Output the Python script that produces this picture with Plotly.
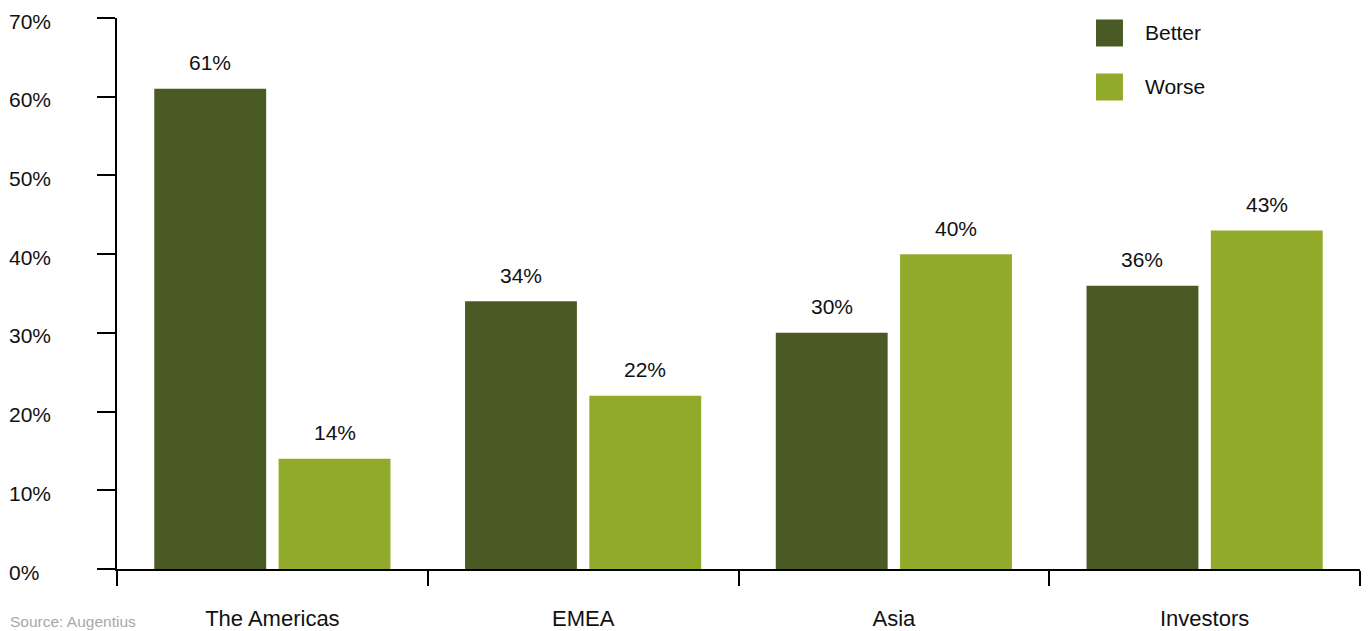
import plotly.graph_objects as go

categories = ["The Americas", "EMEA", "Asia", "Investors"]
better = [61, 34, 30, 36]
worse = [14, 22, 40, 43]
y_ticks = [0, 10, 20, 30, 40, 50, 60, 70]
y_tick_labels = ["0%", "10%", "20%", "30%", "40%", "50%", "60%", "70%"]
series_names = ["Better", "Worse"]
colors = ["#4a5a24", "#91aa29"]
source_text = "Source: Augentius"

FONT = "Liberation Sans, Arial, Helvetica, sans-serif"

fig = go.Figure()
fig.add_trace(go.Bar(x=categories, y=better, name=series_names[0],
                     marker=dict(color=colors[0], line=dict(width=0)), showlegend=False))
fig.add_trace(go.Bar(x=categories, y=worse, name=series_names[1],
                     marker=dict(color=colors[1], line=dict(width=0)), showlegend=False))

annotations = []
# value labels above bars
for i, (b, w) in enumerate(zip(better, worse)):
    for off, v in ((-0.2, b), (0.2, w)):
        annotations.append(dict(x=i + off, y=v, xref="x", yref="y", text=f"{v}%",
                                showarrow=False, yanchor="middle", yshift=26,
                                font=dict(family=FONT, size=21, color="#111111")))
# y tick labels, left-aligned
for v, t in zip(y_ticks, y_tick_labels):
    annotations.append(dict(x=-0.0885, y=v, xref="paper", yref="y", text=t,
                            showarrow=False, xanchor="left", yanchor="middle", yshift=-3,
                            font=dict(family=FONT, size=21, color="#111111")))
# legend (manual)
leg_y = [0.9728, 0.8748]
shapes = []
for name, c, yc in zip(series_names, colors, leg_y):
    shapes.append(dict(type="rect", xref="paper", yref="paper",
                       x0=0.7876, x1=0.8093, y0=yc - 0.0245, y1=yc + 0.0245,
                       fillcolor=c, line=dict(width=0)))
    annotations.append(dict(x=0.8255, y=yc, xref="paper", yref="paper", text=name,
                            showarrow=False, xanchor="left", yanchor="middle",
                            font=dict(family=FONT, size=21, color="#111111")))
annotations.append(dict(x=-0.0877, y=-0.0955, xref="paper", yref="paper", text=source_text,
                        showarrow=False, xanchor="left", yanchor="middle",
                        font=dict(family=FONT, size=15.5, color="#a8a8a8")))

fig.update_layout(
    width=1368, height=631,
    margin=dict(l=117, r=8, t=18, b=62, autoexpand=False),
    paper_bgcolor="white", plot_bgcolor="white",
    barmode="group", bargap=0.2, bargroupgap=0.1,
    annotations=annotations, shapes=shapes,
    font=dict(family=FONT, size=21, color="#111111"),
)
fig.update_xaxes(type="category", range=[-0.5, 3.5], showline=True, linecolor="black",
                 linewidth=1.5, ticks="outside", tickson="boundaries", ticklen=15,
                 tickwidth=1.5, tickcolor="black", showgrid=False, zeroline=False,
                 automargin=False,
                 ticklabelstandoff=29, tickfont=dict(family=FONT, size=22, color="#111111"))
fig.update_yaxes(range=[0, 70], tickvals=y_ticks, showticklabels=False, showline=True,
                 linecolor="black", linewidth=1.5, ticks="outside", ticklen=18,
                 tickwidth=1.5, tickcolor="black", showgrid=False, zeroline=False,
                 automargin=False)

fig.write_html("out.html")
